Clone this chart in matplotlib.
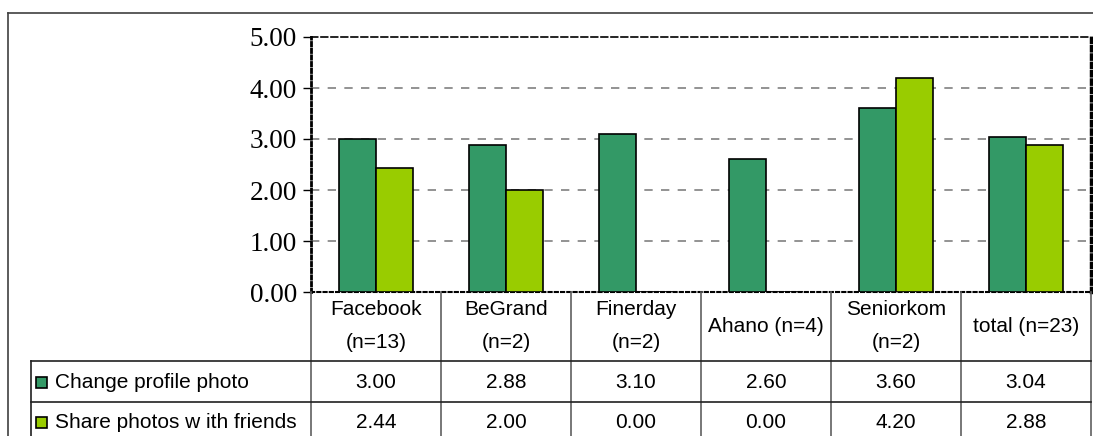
import numpy as np
import matplotlib
matplotlib.use('Agg')
import matplotlib.pyplot as plt
from matplotlib.patches import Rectangle
from matplotlib.transforms import blended_transform_factory

categories = ['Facebook\n(n=13)', 'BeGrand\n(n=2)', 'Finerday\n(n=2)',
              'Ahano (n=4)', 'Seniorkom\n(n=2)', 'total (n=23)']
series_names = ['Change profile photo', 'Share photos w ith friends']
profile_photo = [3.00, 2.88, 3.10, 2.60, 3.60, 3.04]
share_photos = [2.44, 2.00, 0.00, 0.00, 4.20, 2.88]
y_ticks = [0, 1, 2, 3, 4, 5]

colors = ['#339966', '#99CC00']

W, H = 1093, 436
fig = plt.figure(figsize=(W / 100, H / 100), dpi=100)

def fx(px):
    return px / W

def fy(py):
    return 1 - py / H

ax = fig.add_axes([fx(311), fy(292), fx(1091) - fx(311), fy(37) - fy(292)])

x = np.arange(len(categories))
bw = 0.285
ax.bar(x - bw / 2, profile_photo, bw, color=colors[0], edgecolor='black', linewidth=1.2, zorder=3)
ax.bar(x + bw / 2, share_photos, bw, color=colors[1], edgecolor='black', linewidth=1.2, zorder=3)

ax.set_xlim(-0.5, len(categories) - 0.5)
ax.set_ylim(0, 5)
ax.set_yticks(y_ticks)
ax.set_yticklabels(['%.2f' % v for v in y_ticks], family='Liberation Serif', fontsize=19.5)
ax.set_xticks([])
ax.tick_params(axis='y', length=6, width=1, direction='out', pad=4)

for yv in y_ticks[1:-1]:
    ax.axhline(yv, color='#808080', linestyle=(0, (5, 5)), linewidth=1.2, zorder=1)

ax.spines['left'].set_linestyle((0, (1.2, 1.2)))
ax.spines['left'].set_linewidth(2)
ax.spines['right'].set_linestyle((0, (1.2, 1.2)))
ax.spines['right'].set_linewidth(2.5)
ax.spines['top'].set_linestyle((0, (4, 2)))
ax.spines['top'].set_linewidth(1.2)
ax.spines['bottom'].set_linestyle((0, (1.5, 1.5)))
ax.spines['bottom'].set_linewidth(1.5)

# data table under the chart
tr = blended_transform_factory(ax.transData, fig.transFigure)
font = dict(family='Liberation Sans', fontsize=15)
lc = '#404040'

# outer frame
fig.add_artist(plt.Line2D([fx(8), fx(8)], [fy(13), 0], color=lc, lw=1.2))
fig.add_artist(plt.Line2D([fx(8), 1], [fy(13), fy(13)], color=lc, lw=1.2))

for i in range(len(categories) + 1):
    fig.add_artist(plt.Line2D([i - 0.5, i - 0.5], [fy(292), 0], transform=tr, color='#606060', lw=1.2))
for ry in [361, 402]:
    fig.add_artist(plt.Line2D([fx(31), fx(1091)], [fy(ry), fy(ry)], color='#202020', lw=1.2))
fig.add_artist(plt.Line2D([fx(31), fx(31)], [fy(361), 0], color='#202020', lw=1.2))

for i, cat in enumerate(categories):
    fig.text(i, fy(326), cat, transform=tr, ha='center', va='center', linespacing=1.9, **font)
    fig.text(i, fy(382), '%.2f' % profile_photo[i], transform=tr, ha='center', va='center', **font)
    fig.text(i, fy(422), '%.2f' % share_photos[i], transform=tr, ha='center', va='center', **font)

for name, c, ry in zip(series_names, colors, [382, 422]):
    fig.add_artist(Rectangle((fx(36), fy(ry + 6)), fx(11), fy(0) - fy(11),
                             facecolor=c, edgecolor='black', lw=1.2))
    fig.text(fx(55), fy(ry), name, ha='left', va='center', **font)

fig.savefig('out.png', dpi=100)
